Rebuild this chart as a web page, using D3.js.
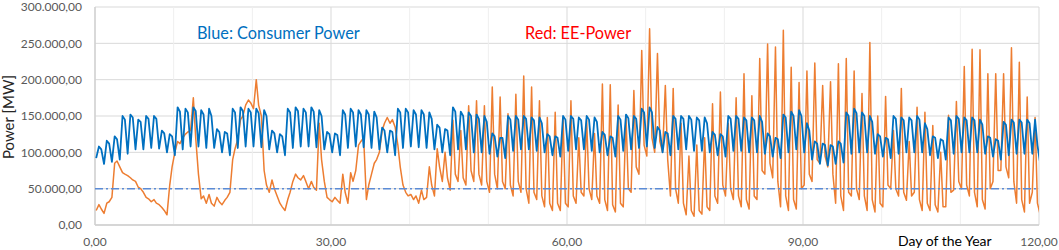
<!DOCTYPE html>
<html>
<head>
<meta charset="utf-8">
<script src="https://cdn.jsdelivr.net/npm/d3@7"></script>
<style>
  body { margin: 0; background: #fff; }
  text { font-family: Lato, "Open Sans", sans-serif; }
</style>
</head>
<body>
<script>
// Consumer power vs EE power, first 120 days of the year
// values, in 1000 MW
// three samples per day: night (~04h), day (12h), evening (~19h)

var blueNight = [92,84,87,90,98,104,104,106,105,100,
  96,104,108,108,106,106,100,96,106,108,
  108,107,104,100,96,106,108,108,107,104,
  100,96,106,108,107,106,104,100,96,106,
  108,107,106,104,100,96,104,104,100,100,
  98,94,92,102,104,104,102,100,96,94,
  102,104,104,102,100,96,94,102,104,106,
  108,106,100,96,104,104,102,102,100,96,
  94,102,102,100,100,98,94,92,100,104,
  100,90,84,82,84,86,98,100,100,98,
  94,92,98,100,100,100,96,92,90,98,
  100,100,100,98,94,90,96,98,98,98,85];

var blueDay = [108,116,122,150,152,145,150,150,130,125,
  162,160,162,158,160,132,128,160,162,160,
  160,158,130,125,160,162,160,162,158,128,
  126,158,160,158,158,156,134,130,160,160,
  158,158,155,138,132,162,156,155,152,150,
  126,120,150,150,150,148,148,125,122,150,
  150,148,150,148,128,122,150,152,150,160,
  162,135,128,150,150,150,148,148,128,125,
  150,150,148,148,150,126,120,152,156,158,
  140,115,112,110,115,155,160,155,150,125,
  120,150,148,148,150,140,122,118,148,150,
  148,148,145,122,118,142,145,145,145,145];

var blueEvening = [104,112,118,145,148,142,146,146,126,122,
  156,155,157,152,150,128,126,155,157,155,
  154,150,126,122,155,157,155,156,150,125,
  124,152,155,152,152,148,130,128,155,155,
  152,152,146,134,130,156,150,150,146,142,
  122,120,145,145,146,144,140,122,120,145,
  146,144,145,142,124,120,145,147,146,155,
  155,130,126,146,146,145,144,140,124,122,
  146,146,144,144,142,122,118,148,150,150,
  130,112,110,108,112,150,154,150,142,122,
  118,146,144,144,145,132,120,116,144,146,
  144,144,138,120,116,138,141,141,140,110];

var eeNight = [20,16,38,80,68,60,45,32,28,14,
  100,120,130,70,30,26,28,45,118,165,
  160,150,45,40,20,60,62,50,48,60,
  32,30,30,75,120,70,100,148,135,55,
  42,30,38,40,60,48,60,55,60,55,
  45,50,50,40,45,30,35,25,20,20,
  25,30,40,35,30,20,18,25,45,70,
  95,100,100,40,30,14,12,15,20,30,
  40,35,25,22,35,70,65,25,20,22,
  55,60,85,80,30,20,40,35,20,18,
  25,50,40,34,45,20,20,18,25,48,
  50,40,25,22,60,75,65,30,18,45,14];

var eeDay = [28,30,85,72,65,52,38,35,24,55,
  115,125,175,36,42,38,34,90,145,172,
  200,75,62,30,35,70,68,60,140,38,
  38,70,72,110,35,85,130,140,110,45,
  35,48,80,105,100,144,130,164,171,164,
  190,176,153,180,205,190,171,148,155,148,
  171,120,145,126,194,193,165,150,185,240,
  270,236,192,188,140,95,110,120,167,183,
  140,175,208,178,229,249,245,268,217,196,
  212,223,192,197,222,229,212,181,251,150,
  177,130,188,115,162,155,137,100,151,170,
  218,242,241,208,208,208,244,224,176,148];

var eeEvening = [22,32,88,70,62,50,36,30,20,80,
  112,128,120,40,30,32,38,105,150,168,
  165,55,50,25,45,65,60,52,90,35,
  34,45,60,115,55,90,140,145,80,40,
  40,35,55,80,65,70,65,75,70,60,
  70,60,55,60,50,45,40,30,30,30,
  40,45,50,40,35,28,30,50,80,110,
  120,115,90,50,30,20,20,25,40,55,
  50,40,35,40,75,85,60,40,35,50,
  70,90,95,70,40,45,50,40,35,30,
  55,50,45,40,35,30,28,25,45,60,
  55,45,35,50,75,80,60,35,30,30];

var limitLine = 50000;
var yTicks = [0, 50000, 100000, 150000, 200000, 250000, 300000];
var xTicks = [0, 30, 60, 90, 120];
var xGrid = [0,10,20,30,40,50,60,70,80,90,100,110,120];

var width = 1059, height = 250;
var plotLeft = 95, plotRight = 1039, plotTop = 7, plotBottom = 225;

var x = d3.scaleLinear().domain([0, 120]).range([plotLeft, plotRight]);
var y = d3.scaleLinear().domain([0, 300000]).range([plotBottom, plotTop]);

// german number format 300.000,00
var de = d3.formatLocale({decimal: ",", thousands: ".", grouping: [3], currency: ["", " €"]});
var fmt = de.format(",.2f");

var svg = d3.select("body").append("svg")
    .attr("width", width)
    .attr("height", height);

svg.append("clipPath").attr("id", "plot")
    .append("rect")
    .attr("x", plotLeft).attr("y", 0)
    .attr("width", plotRight - plotLeft)
    .attr("height", plotBottom);

// night, day and evening samples in time order
function toPoints(night, day, evening) {
    var pts = [];
    night.forEach(function(v, i) {
        pts.push([i + 0.15, v * 1000]);
        if (i < day.length) {
            pts.push([i + 0.5, day[i] * 1000]);
            pts.push([i + 0.8, evening[i] * 1000]);
        }
    });
    return pts;
}

// gridlines
svg.append("g")
    .selectAll("line")
    .data(yTicks)
    .enter().append("line")
    .attr("x1", plotLeft).attr("x2", plotRight)
    .attr("y1", function(d) { return y(d); })
    .attr("y2", function(d) { return y(d); })
    .attr("stroke", "#d9d9d9")
    .attr("stroke-width", 1);

svg.append("g")
    .selectAll("line")
    .data(xGrid)
    .enter().append("line")
    .attr("x1", function(d) { return x(d); })
    .attr("x2", function(d) { return x(d); })
    .attr("y1", plotTop).attr("y2", plotBottom)
    .attr("stroke", function(d) { return d % 30 == 0 ? "#d9d9d9" : "#efefef"; })
    .attr("stroke-width", 1);

// axis lines
svg.append("line")
    .attr("x1", plotLeft).attr("x2", plotRight)
    .attr("y1", plotBottom).attr("y2", plotBottom)
    .attr("stroke", "#cfcfcf").attr("stroke-width", 1.3);
svg.append("line")
    .attr("x1", plotLeft).attr("x2", plotLeft)
    .attr("y1", plotTop).attr("y2", plotBottom)
    .attr("stroke", "#cfcfcf").attr("stroke-width", 1.3);

// tick labels
svg.append("g")
    .selectAll("text")
    .data(yTicks)
    .enter().append("text")
    .attr("x", 82)
    .attr("y", function(d) { return y(d); })
    .attr("dy", "0.35em")
    .attr("text-anchor", "end")
    .attr("fill", "#595959")
    .style("font-size", "12px")
    .text(function(d) { return fmt(d); });

svg.append("g")
    .selectAll("text")
    .data(xTicks)
    .enter().append("text")
    .attr("x", function(d) { return x(d); })
    .attr("y", 246)
    .attr("text-anchor", "middle")
    .attr("fill", "#595959")
    .style("font-size", "12px")
    .text(function(d) { return fmt(d); });

var line = d3.line()
    .x(function(d) { return x(d[0]); })
    .y(function(d) { return y(d[1]); });

var lines = svg.append("g").attr("clip-path", "url(#plot)");

// EE power (orange)
lines.append("path")
    .datum(toPoints(eeNight, eeDay, eeEvening))
    .attr("d", line)
    .attr("fill", "none")
    .attr("stroke", "#ED7D31")
    .attr("stroke-width", 1.5)
    .attr("stroke-linejoin", "round");

// consumer power (blue)
lines.append("path")
    .datum(toPoints(blueNight, blueDay, blueEvening))
    .attr("d", line)
    .attr("fill", "none")
    .attr("stroke", "#0070C0")
    .attr("stroke-width", 1.8)
    .attr("stroke-linejoin", "round");

// 50.000 MW dash dot line
svg.append("line")
    .attr("x1", x(0)).attr("x2", x(120))
    .attr("y1", y(limitLine)).attr("y2", y(limitLine))
    .attr("stroke", "#5B8BD6")
    .attr("stroke-width", 1.5)
    .attr("stroke-dasharray", "8,3,2,3");

// labels
svg.append("text")
    .attr("transform", "translate(14,117) rotate(-90)")
    .attr("text-anchor", "middle")
    .attr("fill", "#262626")
    .style("font-size", "15px")
    .text("Power [MW]");

svg.append("text")
    .attr("x", 898)
    .attr("y", 246)
    .attr("fill", "#000")
    .style("font-size", "14px")
    .text("Day of the Year");

svg.append("text")
    .attr("x", 197)
    .attr("y", 39)
    .attr("fill", "#0070C0")
    .style("font-size", "16.3px")
    .text("Blue: Consumer Power");

svg.append("text")
    .attr("x", 525)
    .attr("y", 39)
    .attr("fill", "#FF0000")
    .style("font-size", "16.3px")
    .text("Red: EE-Power");
</script>
</body>
</html>
